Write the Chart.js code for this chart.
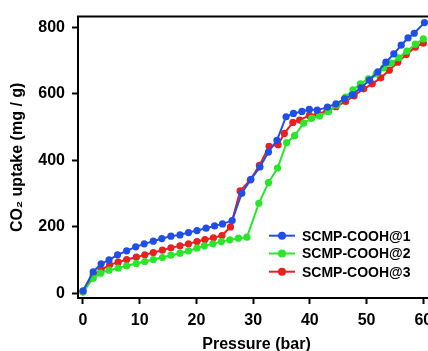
<!DOCTYPE html>
<html>
<head>
<meta charset="utf-8">
<script src="https://cdn.jsdelivr.net/npm/chart.js@4/dist/chart.umd.min.js"></script>
<style>
  html, body { margin: 0; padding: 0; background: #fff; overflow: hidden; width: 428px; height: 351px; }
  canvas { display: block; }
</style>
</head>
<body>
<canvas id="c" width="440" height="351"></canvas>
<script>
// ---- data ----
const seriesNames = ['SCMP-COOH@1', 'SCMP-COOH@2', 'SCMP-COOH@3'];

const pressure1 = [0, 1.8, 3.2, 4.6, 6.1, 7.7, 9.3, 10.8, 12.4, 13.9, 15.5, 17.1, 18.6, 20.1, 21.7, 23.2, 24.6, 26.3, 28.0, 29.6, 31.2, 32.7, 34.2, 35.8, 37.1, 38.6, 39.9, 41.3, 43.1, 44.6, 46.1, 47.5, 49.0, 50.5, 52.0, 53.4, 54.8, 56.1, 57.3, 58.4, 60.2];
const uptake1   = [8, 65, 89, 101, 116, 128, 140, 149, 157, 165, 172, 176, 183, 189, 196, 203, 209, 219, 301, 343, 380, 425, 460, 531, 541, 547, 553, 551, 560, 570, 585, 597, 618, 641, 666, 695, 720, 746, 768, 782, 814];

const pressure2 = [0, 1.8, 3.1, 4.6, 6.2, 7.7, 9.4, 10.9, 12.4, 14.0, 15.5, 17.1, 18.6, 20.1, 21.4, 22.9, 24.4, 25.9, 27.4, 28.9, 31.0, 32.7, 34.3, 35.9, 37.3, 38.9, 40.3, 41.7, 43.3, 44.8, 46.3, 47.6, 48.9, 50.3, 51.7, 53.0, 54.3, 55.7, 57.1, 58.6, 60.0];
const uptake2   = [4, 46, 61, 70, 76, 83, 90, 96, 102, 108, 115, 121, 128, 136, 143, 149, 156, 161, 166, 169, 271, 333, 377, 453, 474, 512, 526, 533, 547, 566, 590, 612, 630, 645, 660, 678, 692, 708, 728, 749, 765];

const pressure3 = [0, 1.8, 3.2, 4.7, 6.2, 7.7, 9.4, 10.9, 12.4, 14.0, 15.5, 17.1, 18.6, 20.1, 21.5, 23.0, 24.5, 26.0, 27.7, 29.5, 31.1, 32.8, 34.4, 35.5, 37.0, 38.2, 39.9, 41.4, 43.0, 44.6, 46.3, 47.8, 49.5, 51.0, 52.5, 54.0, 55.5, 57.0, 58.6, 60.0];
const uptake3   = [5, 55, 71, 86, 94, 102, 109, 116, 123, 130, 137, 143, 149, 156, 162, 167, 174, 200, 308, 341, 385, 442, 447, 481, 514, 521, 535, 540, 548, 561, 577, 594, 615, 630, 648, 671, 695, 718, 740, 752];

const xTicks = [0, 10, 20, 30, 40, 50, 60];
const yTicks = [0, 200, 400, 600, 800];

const colors = ['#1f4fe6', '#28e628', '#e82020'];

function pts(xs, ys) { return xs.map((x, i) => ({ x: x, y: ys[i] })); }

const datasets = [
  { label: seriesNames[0], data: pts(pressure1, uptake1) },
  { label: seriesNames[1], data: pts(pressure2, uptake2) },
  { label: seriesNames[2], data: pts(pressure3, uptake3) }
].map((d, i) => Object.assign(d, {
  borderColor: colors[i],
  backgroundColor: colors[i],
  borderWidth: 2,
  pointRadius: 3.6,
  pointHoverRadius: 3.6,
  pointBorderWidth: 0,
  tension: 0,
  fill: false
}));

const FONT = '"Liberation Sans", Arial, sans-serif';

const framePlugin = {
  id: 'frame',
  afterDraw(chart) {
    const ctx = chart.ctx, a = chart.chartArea;
    ctx.save();
    ctx.strokeStyle = '#000';
    ctx.lineWidth = 2;
    ctx.beginPath();
    ctx.moveTo(a.left - 1, a.top);
    ctx.lineTo(chart.width, a.top);
    ctx.stroke();
    ctx.restore();
  }
};

const legendPlugin = {
  id: 'insideLegend',
  afterDatasetsDraw(chart) {
    const ctx = chart.ctx;
    const rows = [235.7, 253.5, 271.7];
    ctx.save();
    ctx.font = 'bold 14px ' + FONT;
    ctx.textBaseline = 'middle';
    ctx.textAlign = 'left';
    chart.data.datasets.forEach((ds, i) => {
      const y = rows[i];
      ctx.strokeStyle = ds.borderColor;
      ctx.lineWidth = 2;
      ctx.beginPath();
      ctx.moveTo(269, y);
      ctx.lineTo(295, y);
      ctx.stroke();
      ctx.fillStyle = ds.borderColor;
      ctx.beginPath();
      ctx.arc(282, y, 4, 0, Math.PI * 2);
      ctx.fill();
      ctx.fillStyle = '#000';
      ctx.fillText(ds.label, 302, y + 1);
    });
    ctx.restore();
  }
};

new Chart(document.getElementById('c'), {
  type: 'line',
  data: { datasets: datasets },
  options: {
    responsive: false,
    animation: false,
    devicePixelRatio: 1,
    layout: { padding: { top: 15, right: 5, left: 0, bottom: 0 } },
    plugins: { legend: { display: false }, tooltip: { enabled: false } },
    scales: {
      x: {
        type: 'linear',
        min: -0.88,
        max: 62.06,
        afterFit(s) { s.height = 53; },
        afterBuildTicks(s) { s.ticks = xTicks.map(v => ({ value: v })); },
        border: { display: true, color: '#000', width: 2 },
        grid: { display: true, drawOnChartArea: false, drawTicks: true, tickLength: 6, tickWidth: 2, tickColor: '#000', color: '#000' },
        ticks: { color: '#000', font: { family: FONT, size: 16, weight: 'bold' }, padding: 7, maxRotation: 0 },
        title: { display: true, text: 'Pressure (bar)', color: '#000', font: { family: FONT, size: 16, weight: 'bold' }, padding: { top: 0, bottom: -3 } }
      },
      y: {
        type: 'linear',
        min: -13.7,
        max: 832,
        afterFit(s) { s.width = 78; },
        afterBuildTicks(s) { s.ticks = yTicks.map(v => ({ value: v })); },
        border: { display: true, color: '#000', width: 2 },
        grid: { display: true, drawOnChartArea: false, drawTicks: true, tickLength: 6, tickWidth: 2, tickColor: '#000', color: '#000' },
        ticks: { color: '#000', font: { family: FONT, size: 16, weight: 'bold' }, padding: 7 },
        title: { display: true, text: 'CO₂ uptake (mg / g)', color: '#000', font: { family: FONT, size: 16, weight: 'bold' }, padding: { top: 8, bottom: 0 } }
      }
    }
  },
  plugins: [framePlugin, legendPlugin]
});
</script>
</body>
</html>
